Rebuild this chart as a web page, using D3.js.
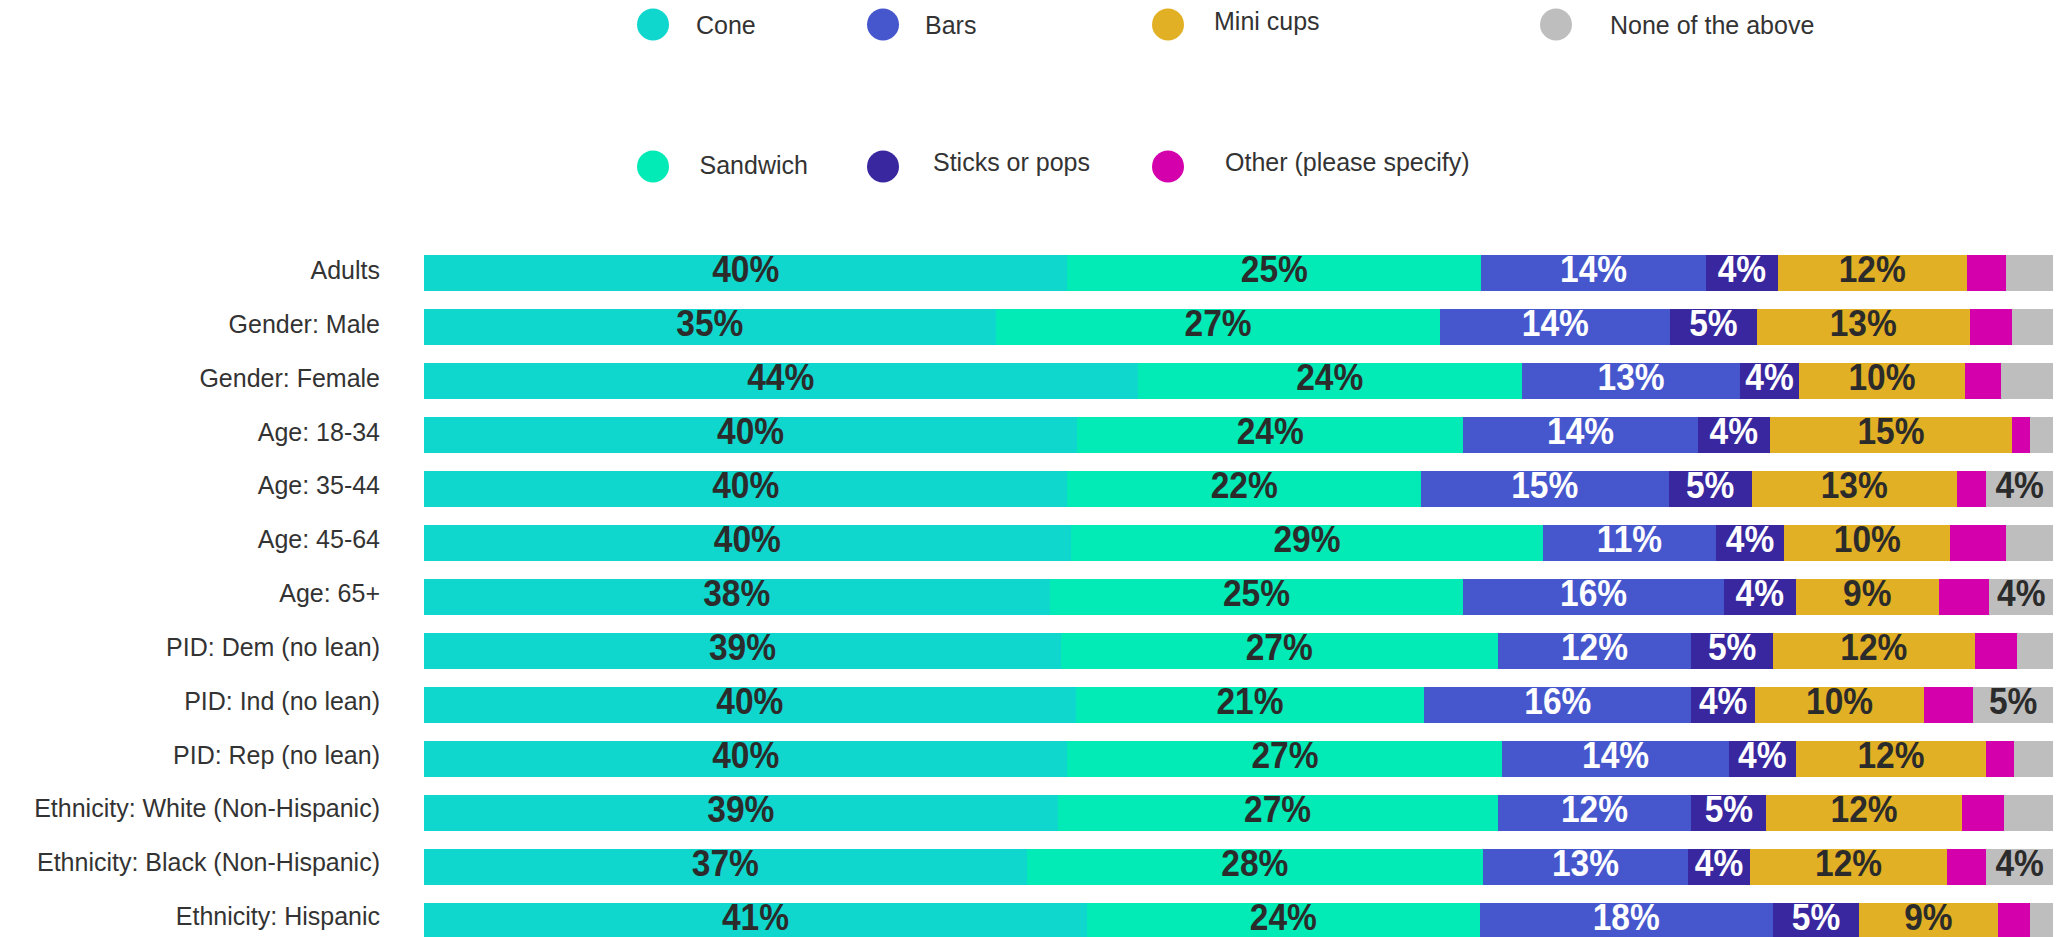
<!DOCTYPE html>
<html>
<head>
<meta charset="utf-8">
<script src="https://cdn.jsdelivr.net/npm/d3@7"></script>
<style>
  html, body { margin: 0; padding: 0; background: #ffffff; }
  svg { display: block; font-family: "Liberation Sans", Arial, sans-serif; }
</style>
</head>
<body>
<svg id="chart" width="2056" height="937"></svg>
<script>
// ---------- DATA ----------
const categories = [
  "Adults", "Gender: Male", "Gender: Female", "Age: 18-34", "Age: 35-44",
  "Age: 45-64", "Age: 65+", "PID: Dem (no lean)", "PID: Ind (no lean)",
  "PID: Rep (no lean)", "Ethnicity: White (Non-Hispanic)",
  "Ethnicity: Black (Non-Hispanic)", "Ethnicity: Hispanic"
];
const seriesNames = ["Cone", "Sandwich", "Bars", "Sticks or pops", "Mini cups", "Other (please specify)", "None of the above"];
const cone      = [39.5, 35.1, 43.8, 40.1, 39.5, 39.7, 38.4, 39.1, 40.0, 39.5, 38.9, 37.0, 40.7];
const sandwich  = [25.4, 27.3, 23.6, 23.7, 21.7, 29.0, 25.4, 26.8, 21.4, 26.7, 27.0, 28.0, 24.1];
const bars      = [13.8, 14.1, 13.4, 14.4, 15.2, 10.6, 16.0, 11.9, 16.4, 13.9, 11.9, 12.6, 18.0];
const sticks    = [4.4, 5.3, 3.6, 4.4, 5.1, 4.2, 4.4, 5.0, 3.9, 4.1, 4.6, 3.8, 5.3];
const miniCups  = [11.6, 13.1, 10.2, 14.9, 12.6, 10.2, 8.8, 12.4, 10.4, 11.7, 12.0, 12.1, 8.5];
const other     = [2.4, 2.6, 2.2, 1.1, 1.8, 3.4, 3.1, 2.6, 3.0, 1.7, 2.6, 2.4, 2.0];
const noneAbove = [2.9, 2.5, 3.2, 1.4, 4.1, 2.9, 3.9, 2.2, 4.9, 2.4, 3.0, 4.1, 1.4];

// ---------- STYLE / LAYOUT ----------
const colors = ["#10d7cd", "#02eab5", "#4657ce", "#3927a0", "#e2b024", "#d400ac", "#bebebe"];
const labelColors = ["#2b2b2b", "#2b2b2b", "#ffffff", "#ffffff", "#2b2b2b", "#2b2b2b", "#2b2b2b"];
// legend layout: [circle x, circle y, text x, text baseline]
const legendLayout = [
  [653, 24.5, 696, 33.5],    // Cone
  [653, 166.5, 699.5, 174],  // Sandwich
  [883, 24.5, 925, 33.5],    // Bars
  [883, 166.5, 933, 170.5],  // Sticks
  [1168, 24.5, 1214, 29.5],  // Mini cups
  [1168, 166.5, 1225, 170.5],// Other
  [1556, 24.5, 1610, 33.5]   // None
];

const seriesValues = [cone, sandwich, bars, sticks, miniCups, other, noneAbove];
const rows = categories.map((c, i) => {
  const r = { category: c };
  seriesNames.forEach((s, j) => { r[s] = seriesValues[j][i]; });
  return r;
});

const svg = d3.select("#chart");

const x = d3.scaleLinear().domain([0, 1]).range([424, 2053]);
const y = d3.scaleBand().domain(categories).range([237, 957]).paddingInner(1/3).paddingOuter(1/3);
const yLabel = d3.scalePoint().domain(categories).range([279, 925]);

const stack = d3.stack().keys(seriesNames).offset(d3.stackOffsetExpand);
const stacked = stack(rows);

const groups = svg.append("g").selectAll("g")
  .data(stacked).join("g")
  .attr("fill", (d, i) => colors[i]);

groups.selectAll("rect")
  .data(d => d.map(p => ({ p, key: d.key })))
  .join("rect")
  .attr("x", d => x(d.p[0]))
  .attr("y", d => y(d.p.data.category))
  .attr("width", d => x(d.p[1]) - x(d.p[0]))
  .attr("height", y.bandwidth())
  .attr("shape-rendering", "crispEdges");

// value labels
stacked.forEach((layer, i) => {
  svg.append("g").selectAll("text")
    .data(layer.filter(p => Math.round(p.data[layer.key]) >= 4))
    .join("text")
    .attr("transform", p => `translate(${(x(p[0]) + x(p[1])) / 2},${y(p.data.category) + y.bandwidth() / 2 + 8.5}) scale(1,1.08)`)
    .attr("text-anchor", "middle")
    .attr("font-size", 33.5)
    .attr("font-weight", "bold")
    .attr("fill", labelColors[i])
    .text(p => Math.round(p.data[layer.key]) + "%");
});

// category labels
svg.append("g").selectAll("text")
  .data(categories).join("text")
  .attr("transform", c => `translate(380,${yLabel(c)}) scale(1,1.06)`)
  .attr("text-anchor", "end")
  .attr("font-size", 25)
  .attr("fill", "#333333")
  .text(c => c);

// legend
const legend = svg.append("g").selectAll("g")
  .data(seriesNames).join("g");
legend.append("circle")
  .attr("cx", (d, i) => legendLayout[i][0])
  .attr("cy", (d, i) => legendLayout[i][1])
  .attr("r", 16)
  .attr("fill", (d, i) => colors[i]);
legend.append("text")
  .attr("x", (d, i) => legendLayout[i][2])
  .attr("y", (d, i) => legendLayout[i][3])
  .attr("font-size", 25)
  .attr("fill", "#333333")
  .text(d => d);
</script>
</body>
</html>
